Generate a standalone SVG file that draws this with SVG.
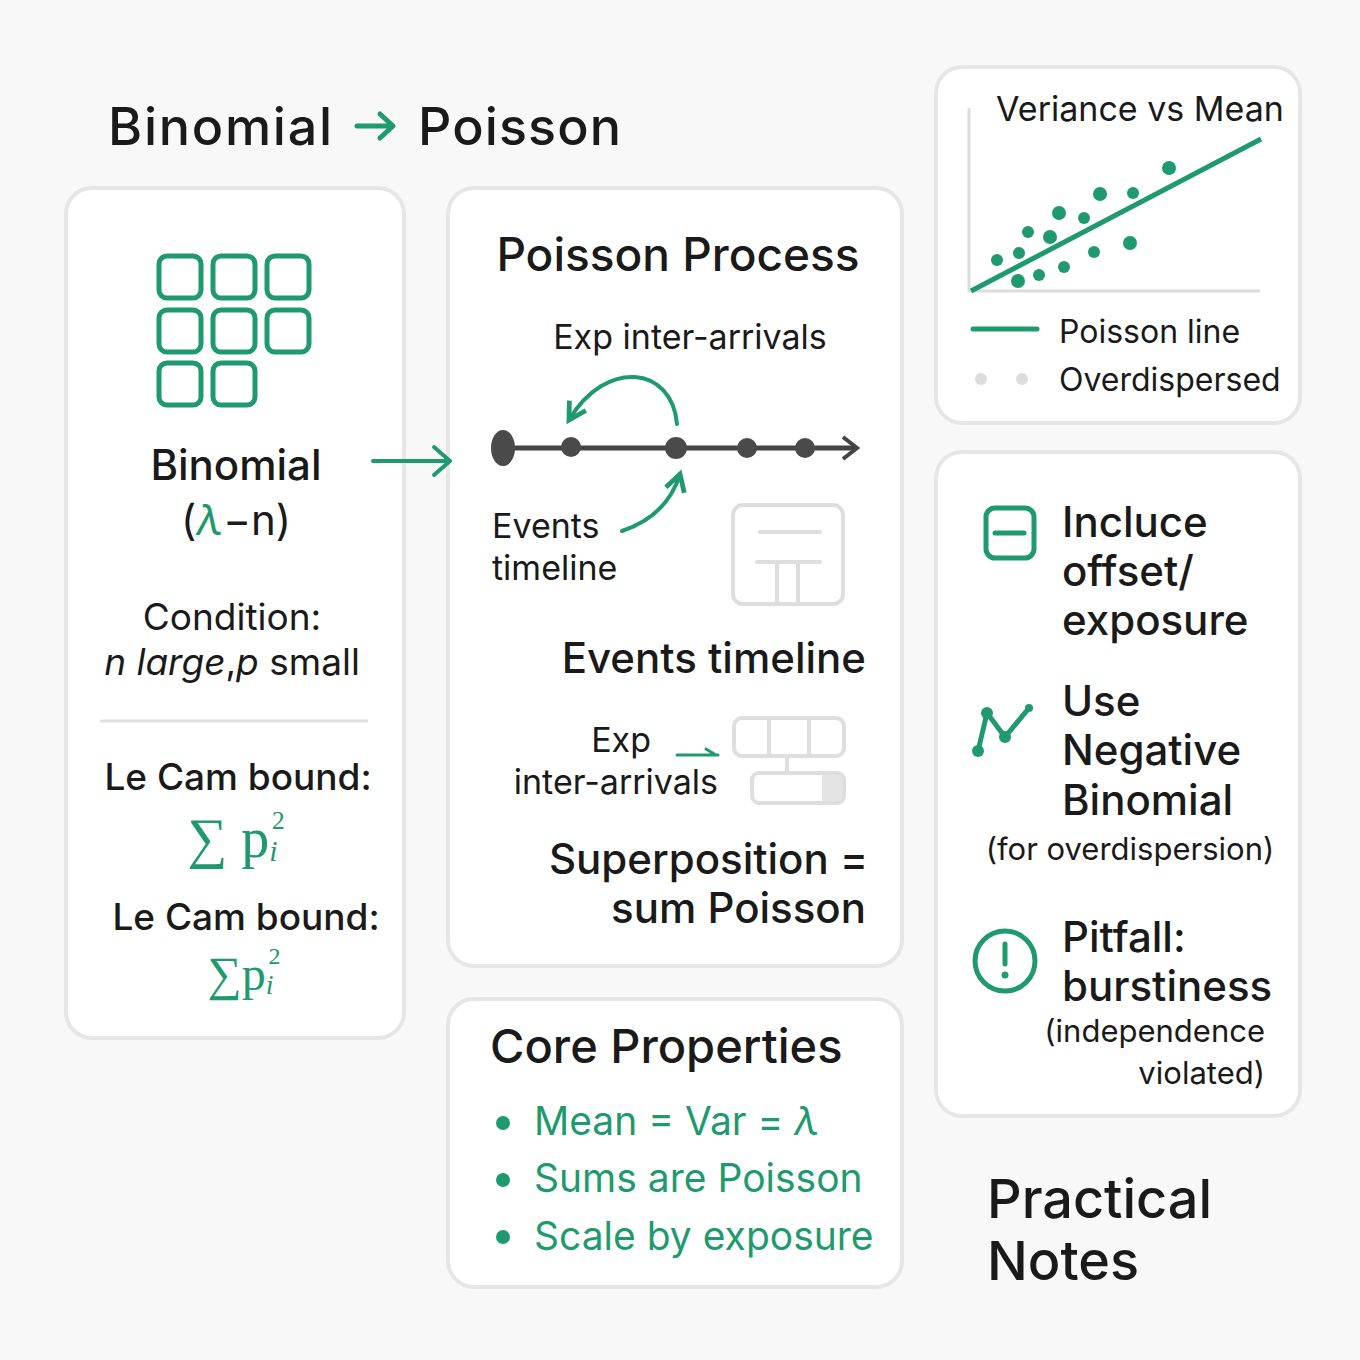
<svg xmlns="http://www.w3.org/2000/svg" width="1360" height="1360" viewBox="0 0 1360 1360">
<style>
.card{fill:#fff;stroke:#e6e6e6;stroke-width:4}
.t{font-family:Inter,"Liberation Sans",sans-serif;fill:#1a1a1a}
.g{fill:#1f9a6e}
.gs{fill:none;stroke:#1f9a6e;stroke-linecap:round;stroke-linejoin:round}
.ls{fill:none;stroke:#dedede;stroke-width:4;stroke-linecap:round}
.m{font-family:"Liberation Serif",serif;fill:#1f9a6e}
</style>
<defs>
<marker id="ah" viewBox="0 0 10 10" refX="8" refY="5" markerWidth="6" markerHeight="6" orient="auto"><path d="M1 1L8 5L1 9" fill="none" stroke="#1f9a6e" stroke-width="2"/></marker>
</defs>
<rect width="1360" height="1360" fill="#f8f8f8"/>
<text class="t" x="108" y="145" font-size="52" font-weight="500" textLength="224">Binomial</text>
<text class="t" x="418" y="145" font-size="52" font-weight="500" textLength="203">Poisson</text>
<g class="gs" stroke-width="5"><path d="M357 126H392M380 114L393 126L380 138"/></g>

<g id="binomial">
<rect class="card" x="66" y="188" width="338" height="850" rx="26"/>
<g class="gs" stroke-width="5">
<rect x="159" y="256" width="42" height="42" rx="8"/><rect x="213" y="256" width="42" height="42" rx="8"/><rect x="267" y="256" width="42" height="42" rx="8"/>
<rect x="159" y="310" width="42" height="42" rx="8"/><rect x="213" y="310" width="42" height="42" rx="8"/><rect x="267" y="310" width="42" height="42" rx="8"/>
<rect x="159" y="363" width="42" height="42" rx="8"/><rect x="213" y="363" width="42" height="42" rx="8"/>
</g>
<text class="t" x="236" y="480" font-size="42" font-weight="500" text-anchor="middle">Binomial</text>
<text class="t" x="236" y="535" font-size="42" text-anchor="middle">(<tspan fill="#1f9a6e" font-style="italic">λ</tspan>−n)</text>
<text class="t" x="232" y="630" font-size="37" text-anchor="middle">Condition:</text>
<text class="t" x="232" y="675" font-size="37" text-anchor="middle"><tspan font-style="italic">n large</tspan>,<tspan font-style="italic">p</tspan> small</text>
<line x1="100" y1="721" x2="368" y2="721" stroke="#e0e0e0" stroke-width="3"/>
<text class="t" x="238" y="790" font-size="37" font-weight="500" text-anchor="middle">Le Cam bound:</text>
<text class="m" x="236" y="857" font-size="56" text-anchor="middle">∑ p<tspan font-size="30" font-style="italic" dy="4">i</tspan><tspan font-size="26" dx="-6" dy="-32">2</tspan></text>
<text class="t" x="246" y="930" font-size="37" font-weight="500" text-anchor="middle">Le Cam bound:</text>
<text class="m" x="244" y="990" font-size="48" text-anchor="middle">∑p<tspan font-size="28" font-style="italic" dy="4">i</tspan><tspan font-size="24" dx="-5" dy="-30">2</tspan></text>
</g>

<g id="process">
<rect class="card" x="448" y="188" width="454" height="778" rx="26"/>
<text class="t" x="678" y="271" font-size="46" font-weight="500" text-anchor="middle">Poisson Process</text>
<text class="t" x="690" y="349" font-size="34" text-anchor="middle">Exp inter-arrivals</text>
<line x1="503" y1="448" x2="855" y2="448" stroke="#444" stroke-width="5"/>
<path d="M843 437L857 448L843 459" fill="none" stroke="#444" stroke-width="4"/>
<ellipse cx="503" cy="448" rx="12" ry="18" fill="#4a4a4a"/>
<circle cx="571" cy="447" r="10" fill="#4a4a4a"/>
<circle cx="676" cy="448" r="11" fill="#4a4a4a"/>
<circle cx="747" cy="448" r="10" fill="#4a4a4a"/>
<circle cx="805" cy="448" r="10" fill="#4a4a4a"/>
<g class="gs" stroke-width="4">
<path d="M677 424C672 366 606 358 569 420" marker-end="url(#ah)"/>
<path d="M622 531C655 520 672 500 680 474" marker-end="url(#ah)"/>
</g>
<text class="t" x="492" y="538" font-size="34">Events</text>
<text class="t" x="492" y="580" font-size="34">timeline</text>
<rect x="733" y="505" width="110" height="99" rx="10" class="ls"/>
<path class="ls" d="M760 532H820M757 562H820M777 562V604M798 562V604"/>
<text class="t" x="866" y="673" font-size="42" font-weight="500" text-anchor="end">Events timeline</text>
<text class="t" x="651" y="752" font-size="34" text-anchor="end">Exp</text>
<text class="t" x="718" y="794" font-size="34" text-anchor="end">inter-arrivals</text>
<path class="gs" stroke-width="3" d="M677 755H718M706 749L716 755"/>
<rect x="734" y="718" width="110" height="38" rx="8" class="ls"/>
<path class="ls" d="M769 718V756M809 718V756M787 756V772"/>
<rect x="752" y="773" width="92" height="30" rx="7" class="ls"/>
<rect x="822" y="775" width="20" height="26" fill="#e4e4e4"/>
<text class="t" x="868" y="874" font-size="42" font-weight="500" text-anchor="end">Superposition =</text>
<text class="t" x="866" y="923" font-size="42" font-weight="500" text-anchor="end">sum Poisson</text>
</g>

<g id="core">
<rect class="card" x="448" y="999" width="454" height="288" rx="26"/>
<text class="t" x="490" y="1063" font-size="47" font-weight="500">Core Properties</text>
<circle class="g" cx="503" cy="1123" r="7"/><circle class="g" cx="503" cy="1180" r="7"/><circle class="g" cx="503" cy="1237" r="7"/>
<text class="t" x="534" y="1135" font-size="39" style="fill:#1f9a6e">Mean = Var = <tspan font-style="italic">λ</tspan></text>
<text class="t" x="534" y="1192" font-size="39" style="fill:#1f9a6e">Sums are Poisson</text>
<text class="t" x="534" y="1250" font-size="39" style="fill:#1f9a6e">Scale by exposure</text>
</g>

<g id="chart">
<rect class="card" x="936" y="67" width="364" height="356" rx="26"/>
<text class="t" x="1140" y="121" font-size="34" text-anchor="middle">Veriance vs Mean</text>
<path d="M969 108V291H1260" fill="none" stroke="#dcdcdc" stroke-width="3"/>
<line x1="971" y1="291" x2="1261" y2="139" stroke="#1f9a6e" stroke-width="5"/>
<g class="g">
<circle cx="997" cy="260" r="6"/><circle cx="1019" cy="253" r="6"/><circle cx="1028" cy="232" r="6"/><circle cx="1018" cy="281" r="7"/><circle cx="1039" cy="275" r="6"/><circle cx="1050" cy="237" r="7"/><circle cx="1059" cy="213" r="7"/><circle cx="1064" cy="267" r="6"/><circle cx="1084" cy="218" r="6"/><circle cx="1094" cy="252" r="6"/><circle cx="1100" cy="194" r="7"/><circle cx="1133" cy="193" r="6"/><circle cx="1130" cy="243" r="7"/><circle cx="1169" cy="168" r="7"/>
</g>
<line x1="973" y1="329" x2="1037" y2="329" stroke="#1f9a6e" stroke-width="5" stroke-linecap="round"/>
<text class="t" x="1059" y="343" font-size="32">Poisson line</text>
<circle cx="981" cy="379" r="6" fill="#dcdcdc"/><circle cx="1022" cy="379" r="6" fill="#dcdcdc"/>
<text class="t" x="1059" y="391" font-size="32">Overdispersed</text>
</g>

<g id="notes">
<rect class="card" x="936" y="452" width="364" height="664" rx="26"/>
<g class="gs" stroke-width="5">
<rect x="986" y="508" width="48" height="50" rx="9"/><line x1="995" y1="533" x2="1024" y2="533"/>
<path d="M978 751L987 713L1005 737L1029 708"/>
<circle cx="1005" cy="961" r="30"/>
</g>
<g class="g"><circle cx="978" cy="751" r="6"/><circle cx="987" cy="713" r="6"/><circle cx="1005" cy="737" r="6"/><circle cx="1029" cy="708" r="4"/></g>
<line x1="1005" y1="944" x2="1005" y2="964" stroke="#1f9a6e" stroke-width="5" stroke-linecap="round"/>
<circle class="g" cx="1005" cy="975" r="3.5"/>
<text class="t" x="1062" y="537" font-size="42" font-weight="500">Incluce</text>
<text class="t" x="1062" y="586" font-size="42" font-weight="500">offset/</text>
<text class="t" x="1062" y="635" font-size="42" font-weight="500">exposure</text>
<text class="t" x="1062" y="716" font-size="42" font-weight="500">Use</text>
<text class="t" x="1062" y="765" font-size="42" font-weight="500">Negative</text>
<text class="t" x="1062" y="815" font-size="42" font-weight="500">Binomial</text>
<text class="t" x="1130" y="860" font-size="31" text-anchor="middle">(for overdispersion)</text>
<text class="t" x="1062" y="952" font-size="42" font-weight="500">Pitfall:</text>
<text class="t" x="1062" y="1001" font-size="42" font-weight="500">burstiness</text>
<text class="t" x="1265" y="1042" font-size="31" text-anchor="end">(independence</text>
<text class="t" x="1265" y="1084" font-size="31" text-anchor="end">violated)</text>
</g>
<text class="t" x="987" y="1218" font-size="54" font-weight="500">Practical</text>
<text class="t" x="987" y="1280" font-size="54" font-weight="500">Notes</text>
<g id="connectors"><path class="gs" stroke-width="4" d="M373 461H450M434 447L450 461L434 475"/></g>
</svg>
